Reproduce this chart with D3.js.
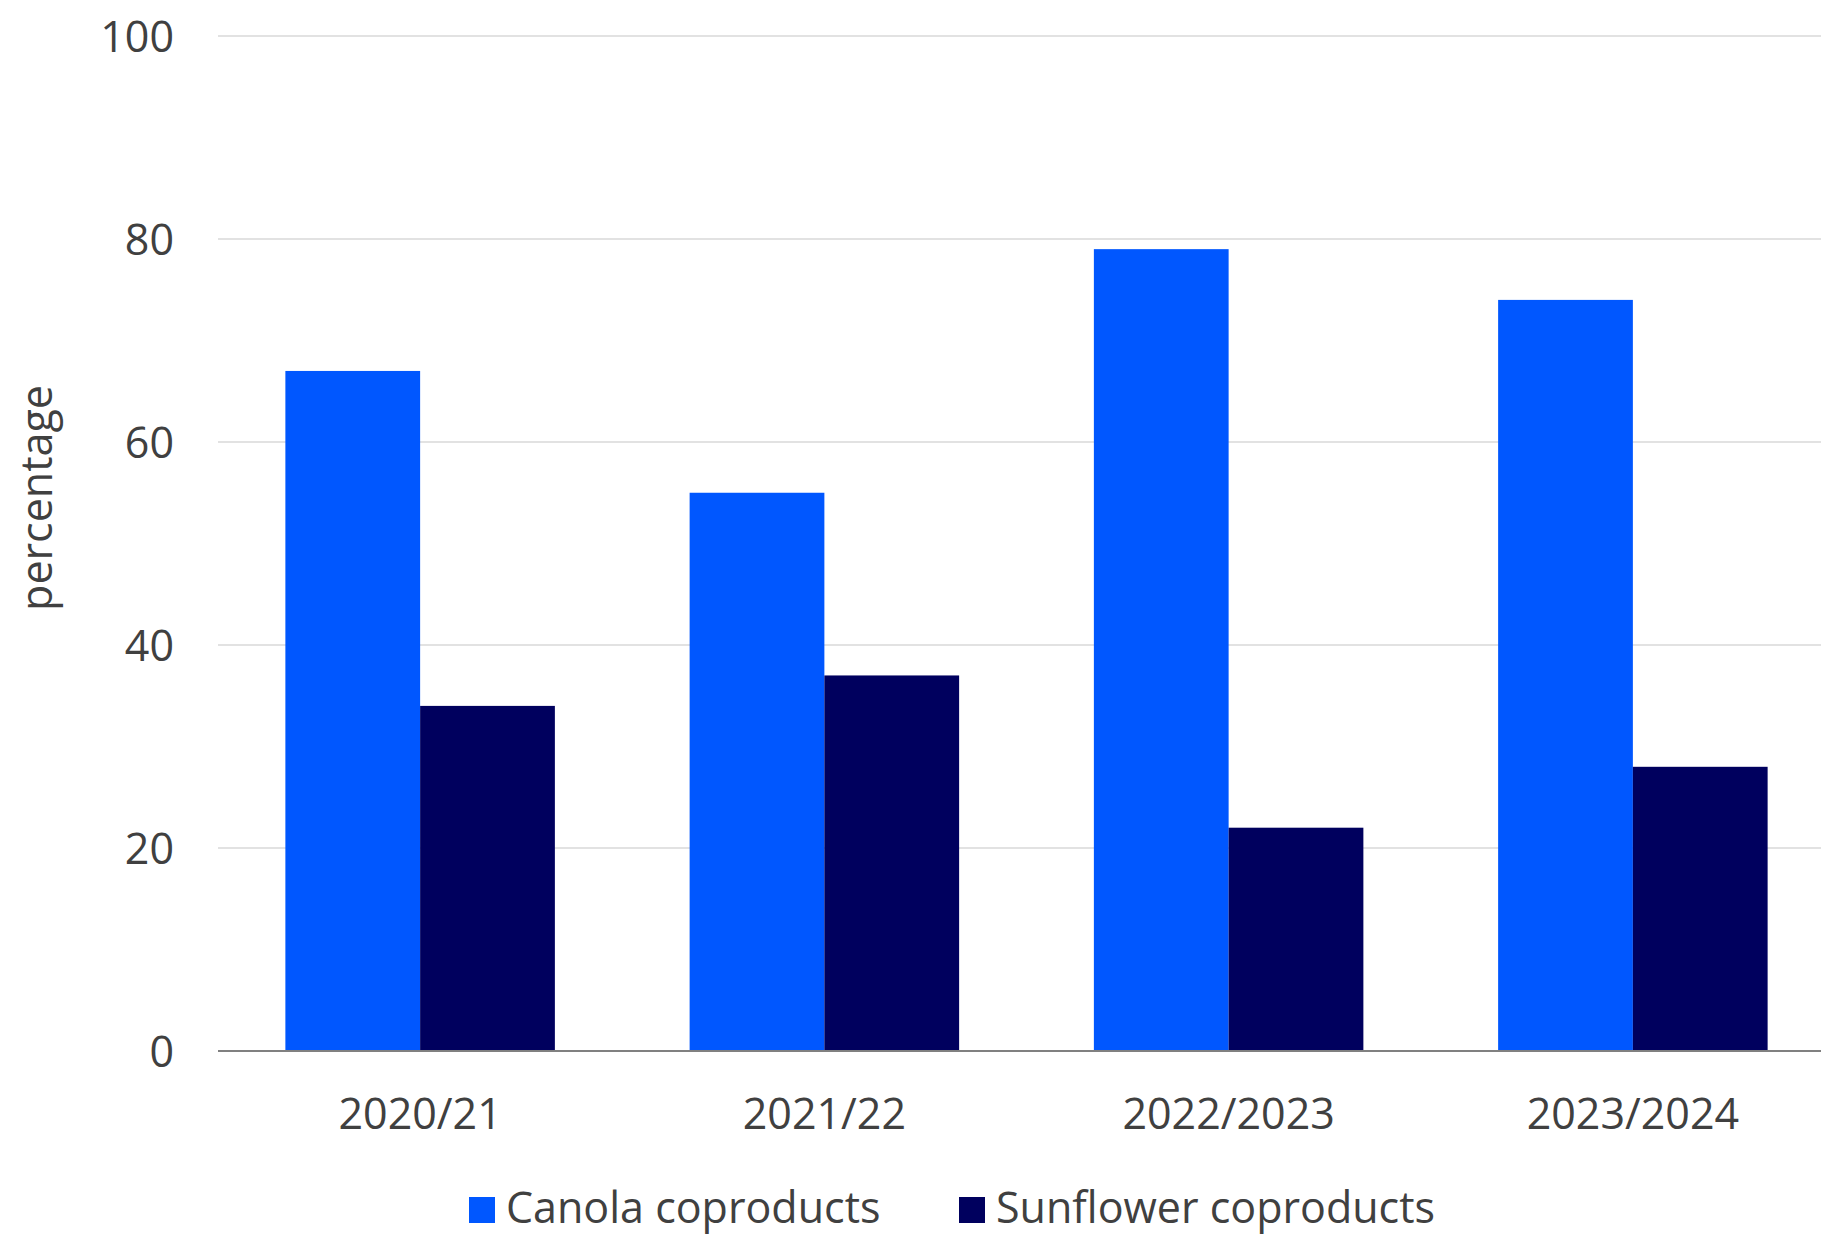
<!DOCTYPE html>
<html>
<head>
<meta charset="utf-8">
<script src="https://cdn.jsdelivr.net/npm/d3@7"></script>
<style>
  html, body { margin: 0; padding: 0; background: #fff; }
  svg { display: block; }
  text { font-family: "Open Sans", "Noto Sans", sans-serif; fill: #404040; }
</style>
</head>
<body>
<svg id="chart" width="1821" height="1236"></svg>
<script>
const categories = ["2020/21", "2021/22", "2022/2023", "2023/2024"];
const seriesNames = ["Canola coproducts", "Sunflower coproducts"];
const canola = [67, 55, 79, 74];
const sunflower = [34, 37, 22, 28];
const yTicks = [0, 20, 40, 60, 80, 100];
const colors = ["#0057ff", "#00005e"];
const yTitle = "percentage";

(function () {
const svg = d3.select("#chart");
const W = 1821;
const mLeft = 218, mTop = 36, mBottom = 1051, rightBand = 1835;

const x = d3.scaleBand().domain(categories).range([mLeft, rightBand]).padding(0);
const xs = d3.scaleBand().domain(seriesNames).range([x.bandwidth() / 6, x.bandwidth() * 5 / 6]).padding(0);
const y = d3.scaleLinear().domain([0, 100]).range([mBottom, mTop]);

// gridlines
svg.append("g").selectAll("line").data(yTicks.filter(d => d !== 0)).join("line")
  .attr("x1", mLeft).attr("x2", W)
  .attr("y1", d => y(d)).attr("y2", d => y(d))
  .attr("stroke", "#d9d9d9").attr("stroke-width", 1.6);

// y axis labels
const yAxis = d3.axisLeft(y).tickValues(yTicks).tickSize(0).tickPadding(44);
const ya = svg.append("g").attr("transform", `translate(${mLeft},0)`).call(yAxis);
ya.select(".domain").remove();
ya.selectAll("text").attr("font-size", 43).attr("font-family", "Open Sans").attr("fill", "#404040")
  .attr("dy", "0.36em");

// bars
const data = categories.map((c, i) => ({ cat: c, vals: [canola[i], sunflower[i]] }));
const groups = svg.append("g").selectAll("g").data(data).join("g")
  .attr("transform", d => `translate(${x(d.cat)},0)`);
groups.selectAll("rect").data(d => d.vals.map((v, j) => ({ s: seriesNames[j], v, j }))).join("rect")
  .attr("x", d => xs(d.s))
  .attr("width", xs.bandwidth())
  .attr("y", d => y(d.v))
  .attr("height", d => y(0) - y(d.v))
  .attr("fill", d => colors[d.j]);

// x axis
const xAxis = d3.axisBottom(x).tickSize(0).tickPadding(0);
const xa = svg.append("g").attr("transform", `translate(0,${mBottom})`).call(xAxis);
xa.select(".domain").remove();
xa.selectAll("text").attr("font-size", 43).attr("font-family", "Open Sans").attr("fill", "#404040")
  .attr("y", 78).attr("dy", 0);
svg.append("line").attr("x1", mLeft).attr("x2", W).attr("y1", mBottom).attr("y2", mBottom)
  .attr("stroke", "#808080").attr("stroke-width", 2);

// y title
svg.append("text")
  .attr("transform", `translate(52,498) rotate(-90)`)
  .attr("text-anchor", "middle")
  .attr("font-size", 43)
  .text(yTitle);

// legend
const legendItems = [
  { name: seriesNames[0], color: colors[0], x: 469 },
  { name: seriesNames[1], color: colors[1], x: 959 }
];
const lg = svg.append("g").selectAll("g").data(legendItems).join("g")
  .attr("transform", d => `translate(${d.x},0)`);
lg.append("rect").attr("x", 0).attr("y", 1197).attr("width", 26).attr("height", 26)
  .attr("fill", d => d.color);
lg.append("text").attr("x", 37).attr("y", 1223).attr("font-size", 43).text(d => d.name);
})();
</script>
</body>
</html>
